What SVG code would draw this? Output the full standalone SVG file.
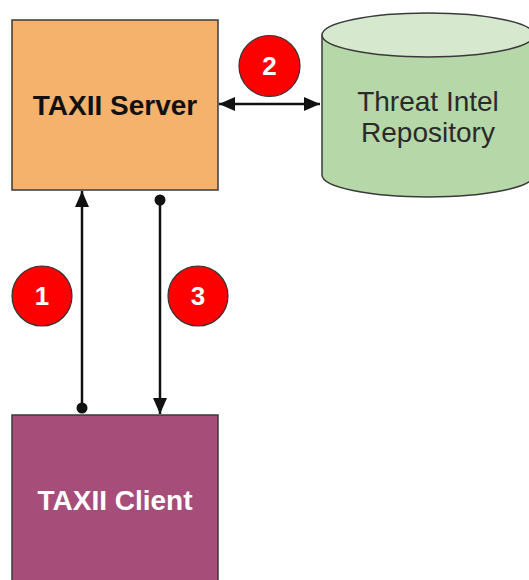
<svg xmlns="http://www.w3.org/2000/svg" width="529" height="580" viewBox="0 0 529 580">
  <style>
    .box { stroke: #3a3a3a; stroke-width: 1.5; }
    .label { font-family: "Liberation Sans", Arial, sans-serif; font-size: 28px; text-anchor: middle; }
    .bold { font-weight: bold; }
    .wire { stroke: #111; stroke-width: 2.5; fill: none; }
    .badge { fill: #ff0000; stroke: #333; stroke-width: 1.2; }
    .num { font-family: "Liberation Sans", Arial, sans-serif; font-size: 26px; font-weight: bold; fill: #fff; text-anchor: middle; }
  </style>
  <defs>
    <marker id="head" viewBox="0 0 16 14" refX="16" refY="7" markerWidth="16" markerHeight="14" markerUnits="userSpaceOnUse" orient="auto-start-reverse">
      <path d="M0,0 L16,7 L0,14 Z" fill="#111"/>
    </marker>
    <marker id="dot" viewBox="0 0 12 12" refX="6" refY="6" markerWidth="12" markerHeight="12" markerUnits="userSpaceOnUse">
      <circle cx="6" cy="6" r="5.5" fill="#111"/>
    </marker>
  </defs>

  <g id="server">
    <rect class="box" x="12" y="20" width="206" height="170" fill="#f5b26c"/>
    <text class="label bold" x="115" y="115" fill="#111">TAXII Server</text>
  </g>

  <g id="repository">
    <path class="box" d="M322,35 L322,175 A106,22 0 0 0 534,175 L534,35" fill="#b6d7a8"/>
    <ellipse class="box" cx="428" cy="35" rx="106" ry="22" fill="#d6e9cf"/>
    <text class="label" x="428" y="111" fill="#2a2a2a">Threat Intel</text>
    <text class="label" x="428" y="142" fill="#2a2a2a">Repository</text>
  </g>

  <g id="client">
    <rect class="box" x="12" y="415" width="206" height="175" fill="#a64d79"/>
    <text class="label bold" x="115" y="510" fill="#fff">TAXII Client</text>
  </g>

  <g id="connectors">
    <line class="wire" x1="219" y1="104" x2="320" y2="104" marker-start="url(#head)" marker-end="url(#head)"/>
    <line class="wire" x1="82" y1="408" x2="82" y2="191" marker-start="url(#dot)" marker-end="url(#head)"/>
    <line class="wire" x1="160" y1="200" x2="160" y2="414" marker-start="url(#dot)" marker-end="url(#head)"/>
  </g>

  <g id="badge-1">
    <circle class="badge" cx="42" cy="296" r="30"/>
    <text class="num" x="42" y="305">1</text>
  </g>
  <g id="badge-2">
    <circle class="badge" cx="269.5" cy="66" r="30.5"/>
    <text class="num" x="269.5" y="75">2</text>
  </g>
  <g id="badge-3">
    <circle class="badge" cx="198" cy="296" r="30"/>
    <text class="num" x="198" y="305">3</text>
  </g>
</svg>
